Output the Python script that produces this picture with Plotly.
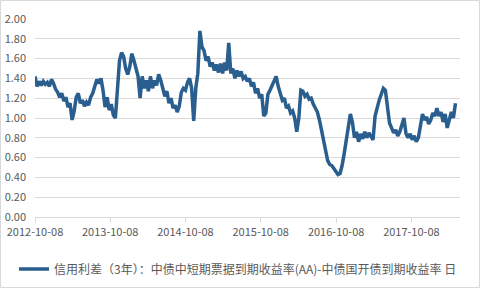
import pandas as pd
import plotly.graph_objects as go

# ---- data (one every 10 days) ----
start_date = "2012-10-08"
step_days = 10
spread_values = [
    1.42, 1.32, 1.37, 1.33, 1.37, 1.34, 1.36, 1.32, 1.39, 1.35,
    1.29, 1.26, 1.21, 1.25, 1.17, 1.21, 1.11, 1.15, 0.98, 1.07,
    1.21, 1.25, 1.15, 1.18, 1.12, 1.16, 1.13, 1.21, 1.25, 1.31,
    1.39, 1.35, 1.40, 1.28, 1.11, 1.21, 1.08, 1.14, 1.03, 1.00,
    1.30, 1.58, 1.66, 1.62, 1.50, 1.44, 1.52, 1.65, 1.58, 1.50,
    1.42, 1.20, 1.42, 1.30, 1.38, 1.27, 1.42, 1.30, 1.38, 1.33,
    1.44, 1.38, 1.30, 1.22, 1.27, 1.15, 1.20, 1.10, 1.13, 1.06,
    1.12, 1.26, 1.30, 1.28, 1.36, 1.40, 1.30, 0.97, 1.30, 1.45,
    1.88, 1.72, 1.68, 1.58, 1.62, 1.52, 1.56, 1.48, 1.54, 1.46,
    1.55, 1.45, 1.56, 1.48, 1.76, 1.45, 1.50, 1.40, 1.48, 1.42,
    1.47, 1.40, 1.42, 1.37, 1.40, 1.32, 1.36, 1.25, 1.30, 1.20,
    1.24, 1.02, 1.05, 1.24, 1.28, 1.33, 1.36, 1.42, 1.32, 1.25,
    1.18, 1.20, 1.10, 1.12, 1.05, 1.07, 1.00, 0.86, 1.00, 1.28,
    1.27, 1.22, 1.24, 1.19, 1.20, 1.14, 1.10, 1.06, 0.98, 0.88,
    0.75, 0.65, 0.57, 0.53, 0.52, 0.49, 0.46, 0.43, 0.44, 0.52,
    0.64, 0.78, 0.88, 1.04, 0.96, 0.80, 0.86, 0.76, 0.84, 0.79,
    0.86, 0.80, 0.85, 0.82, 0.78, 1.02, 1.12, 1.18, 1.24, 1.30,
    1.28, 1.10, 0.95, 0.90, 0.85, 0.88, 0.82, 0.86, 0.92, 1.00,
    0.84, 0.80, 0.84, 0.78, 0.82, 0.76, 0.80, 0.95, 1.04, 0.98,
    1.01, 0.94, 0.98, 1.05, 1.02, 1.10, 1.02, 1.06, 0.96, 1.04,
    0.90, 0.98, 1.06, 1.00, 1.15,
]
dates = pd.date_range(start_date, periods=len(spread_values), freq=f"{step_days}D")

x_tick_labels = ["2012-10-08", "2013-10-08", "2014-10-08",
                 "2015-10-08", "2016-10-08", "2017-10-08"]
y_tick_values = [0.0, 0.2, 0.4, 0.6, 0.8, 1.0, 1.2, 1.4, 1.6, 1.8, 2.0]
series_name = "信用利差（3年）：中债中短期票据到期收益率(AA)-中债国开债到期收益率 日"

# ---- figure ----
W, H = 481, 289
L, R, T, B = 35, 21, 19, 72
pw, ph = W - L - R, H - T - B

fig = go.Figure()
fig.add_trace(go.Scatter(
    x=dates, y=spread_values, mode="lines", name=series_name,
    line=dict(color="#295E8E", width=3.5),
))

font_family = "Noto Sans CJK SC"
fig.update_layout(
    width=W, height=H,
    margin=dict(l=L, r=R, t=T, b=B, autoexpand=False),
    paper_bgcolor="white", plot_bgcolor="white",
    font=dict(family=font_family, size=11, color="#595959"),
    showlegend=True,
    legend=dict(
        orientation="h",
        x=(14 - L) / pw, xanchor="left",
        y=(H - B - 269) / ph, yanchor="middle",
        font=dict(size=12, color="#595959", family=font_family),
        bgcolor="rgba(0,0,0,0)",
        itemwidth=30,
    ),
    xaxis=dict(
        type="date",
        range=["2012-10-08", "2018-06-01"],
        tickvals=x_tick_labels, ticktext=x_tick_labels,
        showgrid=False, zeroline=False,
        showline=True, linecolor="#d9d9d9", linewidth=1,
        ticks="outside", ticklen=5, tickcolor="#d9d9d9",
        tickfont=dict(size=11, color="#595959"),
    ),
    yaxis=dict(
        range=[0, 2.0],
        tickvals=y_tick_values,
        tickformat=".2f",
        showgrid=True, gridcolor="#d9d9d9", gridwidth=1,
        zeroline=False, showline=False, ticks="",
        ticklabelstandoff=8,
        tickfont=dict(size=11, color="#595959"),
    ),
)

# chart-area border
fig.add_shape(
    type="rect", xref="paper", yref="paper",
    x0=(0.5 - L) / pw, x1=(W - 1.5 - L) / pw,
    y0=(H - B - (H - 1.5)) / ph, y1=(H - B - 0.5) / ph,
    line=dict(color="#d9d9d9", width=1), fillcolor="rgba(0,0,0,0)",
    layer="below",
)

fig.write_html("out.html")
